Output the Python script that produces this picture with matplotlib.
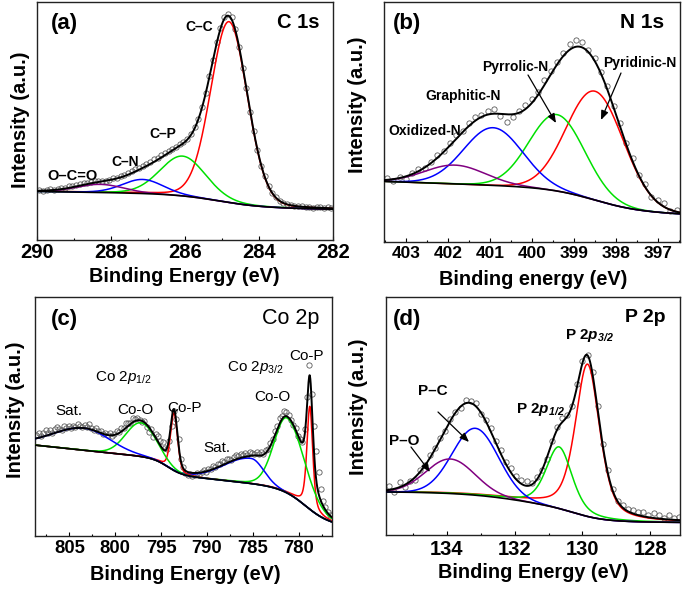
import numpy as np
import matplotlib
matplotlib.use("Agg")
import matplotlib.pyplot as plt
from matplotlib.ticker import MultipleLocator
from matplotlib.patches import FancyArrowPatch

plt.rcParams["font.family"] = "Liberation Sans"
plt.rcParams["font.weight"] = "bold"
plt.rcParams["axes.labelweight"] = "bold"
plt.rcParams["mathtext.fontset"] = "custom"
plt.rcParams["mathtext.rm"] = "Liberation Sans:weight=normal"
plt.rcParams["mathtext.it"] = "Liberation Sans:style=italic:weight=normal"
plt.rcParams["mathtext.bf"] = "Liberation Sans:weight=bold"
plt.rcParams["mathtext.bfit"] = "Liberation Sans:style=italic:weight=bold"

# ---------------- (a) C 1s ----------------
c1s_center = [284.82, 286.07, 287.15, 288.30]
c1s_height = [75.9, 16.7, 5.9, 3.4]
c1s_fwhm = [1.17, 1.45, 1.30, 1.50]
c1s_mix = [0.1, 0.1, 0.1, 0.0]
c1s_bg = dict(base=12.9, ref=282.0, slope=0.25,
              steps=[285.1], widths=[0.6], sizes=[5.5])
c1s_start, c1s_step = 289.95, 0.1
c1s_resid = [0.3, -0.2, 0.1, 0.4, -0.1, 0.2, 0.5, 0.3, 0.6, 0.4,
             0.7, 0.5, 0.8, 0.6, 0.4, 0.5, 0.2, 0.3, 0.0, 0.2,
             0.4, 0.3, 0.6, 0.5, 0.8, 0.7, 0.9, 0.6, 0.8, 1.0,
             0.9, 1.1, 0.8, 1.0, 0.7, 0.9, 0.6, 0.5, 0.7, 0.4,
             0.5, 0.3, 0.6, 0.2, 0.4, 0.1, 0.3, -0.2, 0.2, 0.4,
             0.8, 0.6, 1.0, 0.4, -0.3, -0.5, 0.2, -0.4, 0.3, 0.1,
             -0.2, 0.3, 0.1, -0.1, 0.2, 0.0, -0.2, 0.1, 0.2, -0.1,
             0.1, 0.3, 0.0, 0.2, -0.1, 0.1, 0.2, 0.0, 0.3, 0.1]

# ---------------- (b) N 1s ----------------
n1s_center = [398.49, 399.40, 400.92, 401.83]
n1s_height = [45.3, 31.8, 24.0, 7.8]
n1s_fwhm = [1.60, 1.55, 1.65, 1.70]
n1s_mix = [0.0, 0.0, 0.0, 0.0]
n1s_bg = dict(base=11.5, ref=396.45, slope=0.6,
              steps=[398.5], widths=[0.55], sizes=[9.5])
n1s_start, n1s_step = 403.45, 0.15
n1s_resid = [0.8, -0.9, 0.5, -1.2, 0.3, 1.0, -0.4, 0.6, 1.2, 0.2,
             0.9, 1.5, 0.4, 1.1, 1.8, 0.7, 1.3, 1.8, -0.8, -3.0,
             -1.2, 0.8, 1.5, 1.9, 1.2, 2.1, 1.6, 0.9, 1.4, 2.4,
             2.8, 2.2, 0.9, 1.4, 0.6, 1.3, 0.8, 1.5, 0.4, 1.1,
             0.3, 1.4, -0.6, 0.9, 1.6, -0.3, 0.7]

# ---------------- (c) Co 2p ----------------
co_center = [778.8, 781.3, 785.2, 793.6, 797.2, 803.4]
co_height = [43.0, 31.3, 10.5, 24.1, 14.1, 9.2]
co_fwhm_hi = [0.75, 3.3, 7.0, 0.9, 3.9, 8.0]
co_fwhm_lo = [0.75, 4.4, 3.2, 0.9, 3.9, 6.6]
co_mix = [0.5, 0.1, 0.0, 0.3, 0.0, 0.0]
co_bg = dict(base=4.5, ref=776.3, slope=0.4,
             steps=[779.3, 794.3], widths=[1.3, 0.8], sizes=[14.0, 6.5])
co_start, co_step = 808.6, 0.25
co_resid = [1.2, 2.0, 0.5, 1.6, 2.4, 0.9, 1.8, 0.3, 1.5, 2.2, 1.0, 0.4, 1.7, 0.8, 1.3, 0.2,
            1.1, 0.5, 1.8, 0.9, 0.2, 1.4, 0.7, 1.9, 0.6, 0.1, 1.2, 0.4, 0.9, -0.3, 0.6, 0.2,
            0.8, -0.2, 0.5, 1.2, 0.4, 1.6, 0.9, 2.0, 1.3, 0.5, 1.7, 0.8, 1.1, 0.3, -0.5, 0.6,
            -1.0, -2.0, 0.5, -1.5, 1.5, 2.5, 1.8, 2.8, 1.0, -0.5, -2.0, -3.0, -1.0, 1.5, 2.5, 1.0,
            0.4, -0.8, -1.3, -0.6, -1.5, -0.9, -0.2, -1.0, 0.3, 0.6, -0.3, 0.9, 0.5, 1.2, 0.7, 1.4,
            1.0, 1.6, 0.8, 1.9, 1.3, 0.6, 1.5, 2.0, 1.1, 1.7, 0.9, 1.4, 0.7, 1.8, 1.2, 0.5,
            1.3, 0.8, 1.6, 0.4, 1.1, 0.6, 1.4, 0.9, 1.7, 1.2, 2.2, 1.6, 2.5, 1.9, 1.1, 0.4,
            -0.3, 0.8, -0.5, 0.6, 0.2, 2.0, 3.5, 4.5, 3.0, 10.0, 12.0, 9.0, 5.0, 2.0, 1.0, 0.5, 0.3]

# ---------------- (d) P 2p ----------------
p_center = [129.85, 130.69, 133.16, 133.90]
p_height = [64.0, 25.9, 28.1, 14.5]
p_fwhm = [0.85, 0.90, 1.60, 1.70]
p_mix = [0.5, 0.4, 0.0, 0.0]
p_bg = dict(base=5.2, ref=127.1, slope=0.0,
            steps=[130.2, 131.6], widths=[0.4, 1.0], sizes=[4.5, 8.5])
p_start, p_step = 135.7, 0.15
p_resid = [1.5, -1.2, 2.2, -0.8, 0.5, -1.0, 0.8, 0.2, 1.2, 0.4,
           0.6, -0.4, 0.9, 0.3, -0.6, 1.2, 0.8, 1.5, -0.5, 0.7,
           1.6, 0.9, 1.8, 1.2, 2.0, 1.4, 1.7, 2.2, 0.8, 1.1,
           0.4, -0.6, 0.5, 1.2, 1.6, 0.8, -0.5, 0.6, 1.0, 0.3,
           1.2, 1.8, 0.7, 1.5, 1.1, 0.6, 1.4, 0.9, 1.6, 1.3,
           1.8, 1.0, 2.1, 1.4, 0.6, 1.7, 0.8, 1.2]

RED, GREEN, BLUE, PURPLE = "#ff0000", "#00e000", "#0000ff", "#800080"


def background(x, bg):
    y = bg["base"] + bg["slope"] * (x - bg["ref"])
    for c, w, s in zip(bg["steps"], bg["widths"], bg["sizes"]):
        y = y + s / (1 + np.exp(-(x - c) / w))
    return y


def peak(x, c, h, w_hi, w_lo, eta):
    w = np.where(x >= c, w_hi, w_lo)
    u = (x - c) / w
    g = np.exp(-4 * np.log(2) * u ** 2)
    lor = 1 / (1 + 4 * u ** 2)
    return h * ((1 - eta) * g + eta * lor)


def draw(ax, xlim, bg, centers, heights, w_hi, w_lo, mix, colors,
         start, step, resid):
    xl = np.linspace(xlim[0], xlim[1], 1500)
    xp = start - step * np.arange(len(resid))
    base_l = background(xl, bg)
    base_p = background(xp, bg)
    comps = [peak(xl, c, h, a, b, e) for c, h, a, b, e in
             zip(centers, heights, w_hi, w_lo, mix)]
    env_p = base_p + sum(peak(xp, c, h, a, b, e) for c, h, a, b, e in
                         zip(centers, heights, w_hi, w_lo, mix))
    ax.plot(xp, env_p + np.array(resid), "o", mfc="none", mec="#5a5a5a",
            ms=3.8, mew=0.6, zorder=2)
    for comp, col in zip(comps, colors):
        ax.plot(xl, base_l + comp, color=col, lw=1.1, zorder=3)
    ax.plot(xl, base_l, color="k", lw=1.2, zorder=4)
    ax.plot(xl, base_l + sum(comps), color="k", lw=1.4, zorder=5)
    ax.set_xlim(*xlim)
    ax.set_ylim(0, 100)


W, H = 685, 589
fig = plt.figure(figsize=(W / 100, H / 100), dpi=100)

axa = fig.add_axes([0.0545, 0.5925, 0.4321, 0.4046])
axb = fig.add_axes([0.5606, 0.5891, 0.4314, 0.4080])
axc = fig.add_axes([0.0518, 0.0900, 0.4333, 0.4063])
axd = fig.add_axes([0.5635, 0.0917, 0.4292, 0.4041])

draw(axa, (290, 282), c1s_bg, c1s_center, c1s_height, c1s_fwhm, c1s_fwhm,
     c1s_mix, [RED, GREEN, BLUE, PURPLE], c1s_start, c1s_step, c1s_resid)
draw(axb, (403.52, 396.48), n1s_bg, n1s_center, n1s_height, n1s_fwhm, n1s_fwhm,
     n1s_mix, [RED, GREEN, BLUE, PURPLE], n1s_start, n1s_step, n1s_resid)
draw(axc, (808.7, 776.35), co_bg, co_center, co_height, co_fwhm_hi, co_fwhm_lo,
     co_mix, [RED, GREEN, BLUE, RED, GREEN, BLUE], co_start, co_step, co_resid)
draw(axd, (135.8, 127.12), p_bg, p_center, p_height, p_fwhm, p_fwhm,
     p_mix, [RED, GREEN, BLUE, PURPLE], p_start, p_step, p_resid)

panel_fmt = [
    (axa, 2, 1, 14.5, 2.0, "Binding Energy (eV)", (0.496, -0.115), (-0.025, 0.504)),
    (axb, 1, 0.5, 12.5, 3.0, "Binding energy (eV)", (0.504, -0.115), (-0.058, 0.57)),
    (axc, 5, 2.5, 13.2, 3.2, "Binding Energy (eV)", (0.504, -0.12), (-0.035, 0.527)),
    (axd, 2, 1, 14.5, 3.6, "Binding Energy (eV)", (0.502, -0.118), (-0.061, 0.54)),
]
for ax, major, minor, tsize, pad, xlab, xlc, ylc in panel_fmt:
    ax.xaxis.set_major_locator(MultipleLocator(major))
    ax.xaxis.set_minor_locator(MultipleLocator(minor))
    ax.set_yticks([])
    ax.tick_params(axis="x", which="both", direction="in", top=False, width=0.8)
    ax.tick_params(axis="x", which="major", length=3, labelsize=tsize, pad=pad)
    ax.tick_params(axis="x", which="minor", length=1.6)
    for sp in ax.spines.values():
        sp.set_linewidth(1.0)
        sp.set_color("#222222")
    ax.set_xlabel(xlab, fontsize=14.3)
    ax.xaxis.set_label_coords(*xlc)
    ax.set_ylabel("Intensity (a.u.)", fontsize=14.5)
    ax.yaxis.set_label_coords(*ylc)


def label(x, y, s, size, weight="bold"):
    fig.text(x / W, 1 - y / H, s, ha="center", va="center",
             fontsize=size, fontweight=weight)


def arrow(x0, y0, x1, y1):
    fig.add_artist(FancyArrowPatch((x0 / W, 1 - y0 / H), (x1 / W, 1 - y1 / H),
                                   transform=fig.transFigure,
                                   arrowstyle="-|>,head_length=0.55,head_width=0.22",
                                   mutation_scale=10, color="k", lw=0.9,
                                   shrinkA=0, shrinkB=0))


# (a)
label(64, 24, "(a)", 16)
label(298.5, 22.5, "C 1s", 14.5)
label(199, 27, "C\u2013C", 10)
label(162.5, 134, "C\u2013P", 10)
label(125, 162, "C\u2013N", 10)
label(72.5, 176, "O\u2013C=O", 10.5)

# (b)
label(407.5, 24, "(b)", 16)
label(642, 22.5, "N 1s", 15)
label(640, 62.5, "Pyridinic-N", 10)
label(515.5, 67.5, "Pyrrolic-N", 10)
label(463, 96.5, "Graphitic-N", 10)
label(425, 131.5, "Oxidized-N", 10)
arrow(528, 75, 556, 123)
arrow(621, 73, 601, 120)

# (c)
label(64, 319, "(c)", 16)
label(291, 318.5, "Co 2p", 15.5, "normal")
label(306, 356, "Co-P", 11, "normal")
label(255, 367, r"Co 2$\mathit{p}_{\mathit{3/2}}$", 11, "normal")
label(272.5, 397, "Co-O", 11, "normal")
label(216.5, 447.5, "Sat.", 11, "normal")
label(123.5, 378, r"Co 2$\mathit{p}_{\mathit{1/2}}$", 11, "normal")
label(68.5, 411, "Sat.", 11, "normal")
label(135, 409.5, "Co-O", 11, "normal")
label(184.5, 408, "Co-P", 11, "normal")

# (d)
label(407.5, 319, "(d)", 16)
label(645, 317.5, "P 2p", 14)
label(590, 336, r"P 2$\mathbfit{p}_{\mathbfit{3/2}}$", 11)
label(541, 410, r"P 2$\mathbfit{p}_{\mathbfit{1/2}}$", 11)
label(433, 391, "P\u2013C", 11)
label(404, 441, "P\u2013O", 11)
arrow(438, 412, 469, 442)
arrow(411, 447, 430, 472)

fig.savefig("out.png", dpi=100)
